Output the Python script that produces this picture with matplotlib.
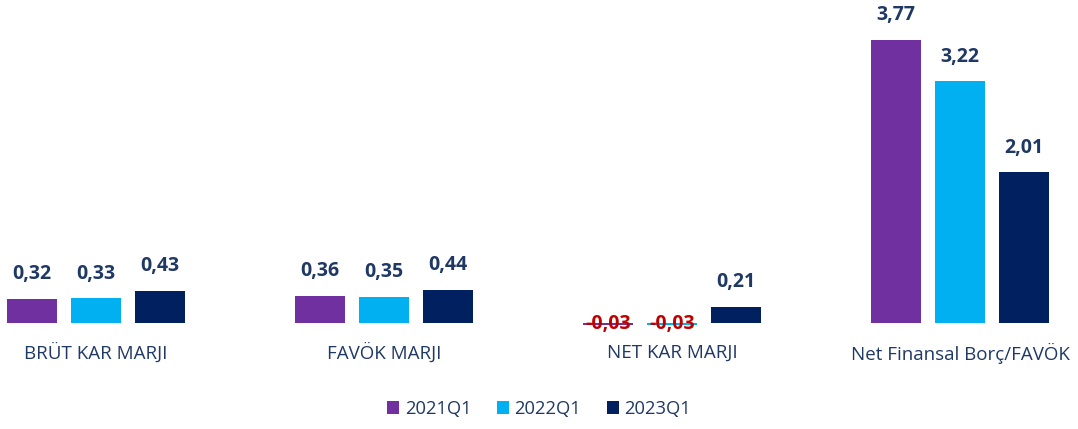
import matplotlib.pyplot as plt
import numpy as np

plt.rcParams['font.family'] = ['Open Sans', 'DejaVu Sans']

categories = ["BRÜT KAR MARJI", "FAVÖK MARJI", "NET KAR MARJI", "Net Finansal Borç/FAVÖK"]
series = ["2021Q1", "2022Q1", "2023Q1"]
v2021 = [0.32, 0.36, -0.03, 3.77]
v2022 = [0.33, 0.35, -0.03, 3.22]
v2023 = [0.43, 0.44, 0.21, 2.01]
labels2021 = ["0,32", "0,36", "-0,03", "3,77"]
labels2022 = ["0,33", "0,35", "-0,03", "3,22"]
labels2023 = ["0,43", "0,44", "0,21", "2,01"]

colors = ["#7030A0", "#00B0F0", "#002060"]
txt = "#1F3864"
red = "#C00000"

fig = plt.figure(figsize=[10.78, 4.29], dpi=100)
ax = fig.add_axes([0, 0, 1, 1])

x = np.arange(len(categories))
w = 50 / 288
step = 64 / 288

data = [v2021, v2022, v2023]
labs = [labels2021, labels2022, labels2023]
for k in range(3):
    pos = x + (k - 1) * step
    ax.bar(pos, data[k], width=w, color=colors[k], label=series[k])
    for i in range(len(categories)):
        v = data[k][i]
        if v < 0:
            ax.text(pos[i], v + 0.02, labs[k][i], ha="center", va="center",
                    fontsize=14, fontweight="bold", color=red)
        else:
            ax.text(pos[i], v + 0.33, labs[k][i], ha="center", va="center",
                    fontsize=14, fontweight="bold", color=txt)

for i in range(len(categories)):
    ax.text(x[i], -0.40, categories[i], ha="center", va="center",
            fontsize=13.5, color=txt)

ax.set_xlim(-96 / 288, (1078 - 96) / 288)
ax.set_ylim(-(429 - 323) / 75, 323 / 75)
ax.axis("off")

leg = ax.legend(loc="center", bbox_to_anchor=(0.5, 1 - 409 / 429), ncol=3,
                frameon=False, fontsize=13.2, handlelength=0.65, handleheight=0.65,
                handletextpad=0.3, columnspacing=1.4)
for t in leg.get_texts():
    t.set_color(txt)

fig.savefig("out.png", dpi=100)
